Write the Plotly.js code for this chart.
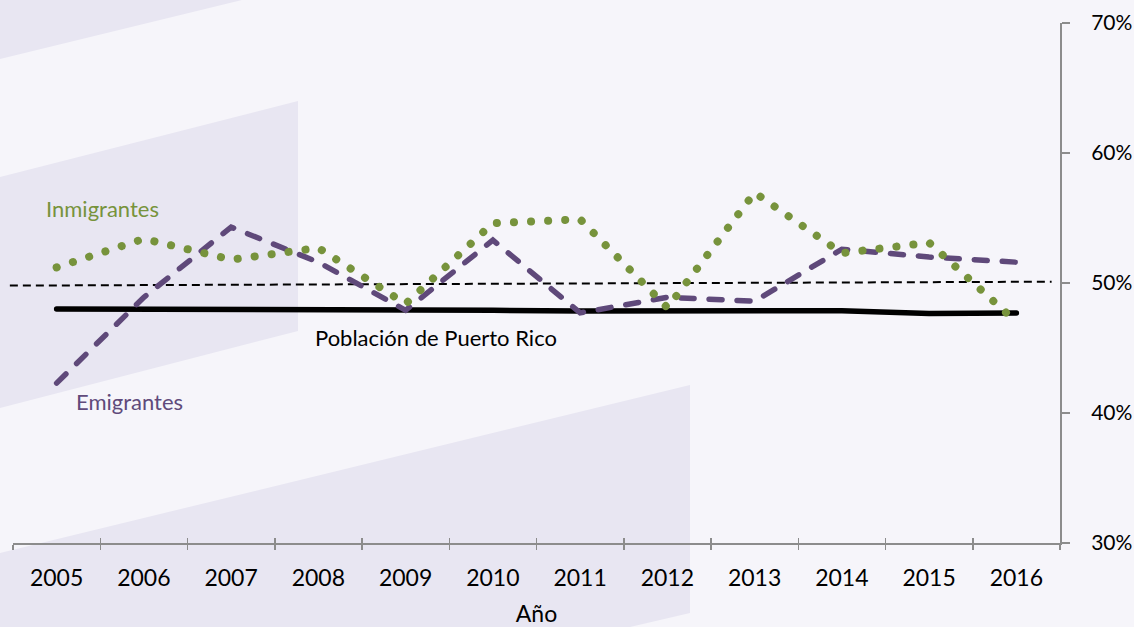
<!DOCTYPE html>
<html>
<head>
<meta charset="utf-8">
<script src="https://cdn.plot.ly/plotly-3.0.1.min.js"></script>
<style>
  html, body { margin: 0; padding: 0; background: #f6f5fa; }
  #wrap { position: relative; width: 1134px; height: 627px; overflow: hidden; }
  #bg { position: absolute; left: 0; top: 0; }
  #chart { position: absolute; left: 0; top: 0; width: 1134px; height: 627px; }
  .js-line { stroke-linecap: round !important; }
</style>
</head>
<body>
<div id="wrap">
  <svg id="bg" width="1134" height="627" xmlns="http://www.w3.org/2000/svg">
    <rect x="0" y="0" width="1134" height="627" fill="#f6f5fa"/>
    <polygon points="0,0 242,0 0,59" fill="#e8e6f2"/>
    <polygon points="0,177 298,101 298,331 0,408" fill="#e8e6f2"/>
    <polygon points="0,553 690,385 690,613 630,627 0,627" fill="#e8e6f2"/>
  </svg>
  <div id="chart"></div>
</div>
<script>
const years = ['2005','2006','2007','2008','2009','2010','2011','2012','2013','2014','2015','2016'];
const inmigrantes = [51.2, 53.4, 51.8, 52.7, 48.4, 54.6, 54.9, 48.1, 56.95, 52.3, 53.1, 47.0];
const emigrantes  = [42.3, 48.9, 54.3, 51.6, 47.9, 53.3, 47.7, 48.9, 48.6, 52.6, 52.0, 51.6];
const poblacion   = [48.0, 48.0, 47.95, 47.95, 47.9, 47.9, 47.85, 47.85, 47.8, 47.87, 47.65, 47.7];
const refLine = [49.8, 50.1];
const yTicks = [30, 40, 50, 60, 70];
const yTickText = ['30%', '40%', '50%', '60%', '70%'];

const FONT = 'Lato, "Open Sans", sans-serif';
const AXIS = '#8c8c8c';

const traces = [
  { x: years, y: poblacion, type: 'scatter', mode: 'lines',
    line: { color: '#000000', width: 5.5 }, hoverinfo: 'skip' },
  { x: years, y: emigrantes, type: 'scatter', mode: 'lines',
    line: { color: '#5f497a', width: 5.5, dash: '13px,15px' }, hoverinfo: 'skip' },
  { x: years, y: inmigrantes, type: 'scatter', mode: 'lines',
    line: { color: '#77933c', width: 8, dash: '0.1px,17px' }, hoverinfo: 'skip' },
  { x: years, y: poblacion, xaxis: 'x2', type: 'scatter', mode: 'lines',
    opacity: 0, line: { width: 0 }, hoverinfo: 'skip' }
];

const layout = {
  width: 1134, height: 627,
  margin: { l: 13, r: 74, t: 23, b: 84 },
  paper_bgcolor: 'rgba(0,0,0,0)',
  plot_bgcolor: 'rgba(0,0,0,0)',
  showlegend: false,
  font: { family: FONT, color: '#000' },
  xaxis: {
    type: 'category', range: [-0.5, 11.5],
    tickson: 'boundaries', ticks: 'outside', ticklen: 5, tickwidth: 1.5, tickcolor: AXIS,
    showline: true, linecolor: AXIS, linewidth: 2,
    showgrid: false, zeroline: false,
    tickfont: { family: FONT, size: 23, color: '#000' },
    ticklabelstandoff: 13,
    title: { text: 'Año', font: { family: FONT, size: 23, color: '#000' }, standoff: 20 }
  },
  xaxis2: {
    type: 'category', range: [-0.5, 11.5], overlaying: 'x', anchor: 'y', side: 'bottom',
    tickson: 'boundaries', ticks: 'inside', ticklen: 5, tickwidth: 1.5, tickcolor: AXIS,
    showticklabels: false, showline: false, showgrid: false, zeroline: false
  },
  yaxis: {
    range: [30, 70], side: 'right',
    tickvals: yTicks, ticktext: yTickText,
    ticks: 'outside', ticklen: 8, tickwidth: 1.5, tickcolor: AXIS,
    showline: true, linecolor: AXIS, linewidth: 2,
    showgrid: false, zeroline: false,
    tickfont: { family: FONT, size: 21, color: '#000' },
    ticklabelstandoff: 17
  },
  shapes: [
    { type: 'line', xref: 'paper', yref: 'y', x0: -0.003, x1: 0.992,
      y0: refLine[0], y1: refLine[1],
      line: { color: '#000', width: 2, dash: '8px,5px' }, layer: 'below' }
  ],
  annotations: [
    { text: 'Inmigrantes', xref: 'paper', yref: 'paper', x: 0.0296, y: 0.643,
      xanchor: 'left', yanchor: 'middle', showarrow: false,
      font: { family: FONT, size: 22, color: '#77933c' } },
    { text: 'Emigrantes', xref: 'paper', yref: 'paper', x: 0.0583, y: 0.272,
      xanchor: 'left', yanchor: 'middle', showarrow: false,
      font: { family: FONT, size: 22, color: '#604a7b' } },
    { text: 'Población de Puerto Rico', xref: 'paper', yref: 'paper', x: 0.2865, y: 0.395,
      xanchor: 'left', yanchor: 'middle', showarrow: false,
      font: { family: FONT, size: 22, color: '#000' } }
  ]
};

Plotly.newPlot('chart', traces, layout, { displayModeBar: false, staticPlot: true });
</script>
</body>
</html>
